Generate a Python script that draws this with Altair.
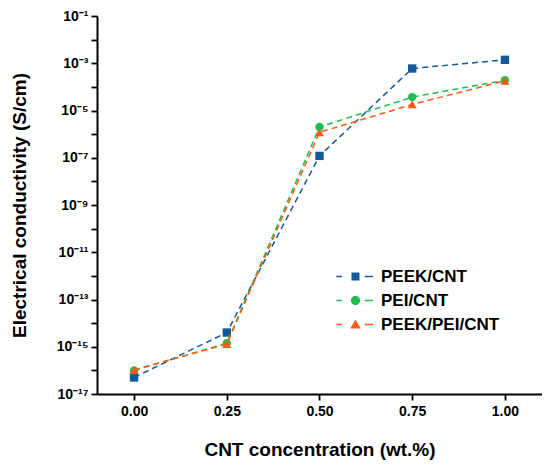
import altair as alt
import pandas as pd

# ---- data ----
concentration = [0.00, 0.25, 0.50, 0.75, 1.00]
series_names = ["PEEK/CNT", "PEI/CNT", "PEEK/PEI/CNT"]
peek_cnt = [5e-17, 4e-15, 1.2e-7, 6e-4, 1.4e-3]
pei_cnt = [1e-16, 1.4e-15, 2e-6, 3.7e-5, 1.9e-4]
peek_pei_cnt = [1.05e-16, 1.3e-15, 1.2e-6, 1.8e-5, 1.8e-4]
colors = ["#135a97", "#20bd4c", "#ff5a14"]
shapes = ["square", "circle", "triangle-up"]

x_ticks = [0.0, 0.25, 0.5, 0.75, 1.0]
y_tick_values = [10.0 ** -k for k in range(1, 18)]
y_tick_labels = ["10⁻¹", "", "10⁻³", "", "10⁻⁵", "", "10⁻⁷", "", "10⁻⁹", "",
                 "10⁻¹¹", "", "10⁻¹³", "", "10⁻¹⁵", "", "10⁻¹⁷"]

# legend symbols: dash - marker - dash (custom paths)
legend_paths = [
    "M-4.8,-0.2H-3.4V0.2H-4.8Z M-1,-1H1V1H-1Z M2.3,-0.2H4.4V0.2H2.3Z",
    "M-4.8,-0.2H-3.4V0.2H-4.8Z M1.15,0A1.15,1.15,0,1,1,-1.15,0A1.15,1.15,0,1,1,1.15,0Z M2.3,-0.2H4.4V0.2H2.3Z",
    "M-4.8,-0.2H-3.4V0.2H-4.8Z M0,-1.25L1.3,1L-1.3,1Z M2.3,-0.2H4.4V0.2H2.3Z",
]

rows = []
for name, vals in zip(series_names, [peek_cnt, pei_cnt, peek_pei_cnt]):
    for c, v in zip(concentration, vals):
        rows.append({"series": name, "conc": c, "sigma": v})
df = pd.DataFrame(rows)

label_expr = "[" + ",".join("'" + s + "'" for s in y_tick_labels) + "][round(-log(datum.value)/LN10)-1]"

x_enc = alt.X(
    "conc:Q",
    scale=alt.Scale(domain=[-0.1, 1.1], nice=False, zero=False),
    axis=alt.Axis(
        values=x_ticks, format=".2f", title="CNT concentration (wt.%)",
        titleY=55, titleBaseline="middle", labelPadding=4,
    ),
)
y_enc = alt.Y(
    "sigma:Q",
    scale=alt.Scale(type="log", domain=[1e-17, 1e-1], nice=False),
    axis=alt.Axis(
        values=y_tick_values, labelExpr=label_expr,
        title="Electrical conductivity (S/cm)",
        titleX=-78, titleY=189, titleBaseline="middle", titleAlign="center",
        labelPadding=3,
    ),
)

base = alt.Chart(df)
layers = []
for name, col, shp in zip(series_names, colors, shapes):
    sub = base.transform_filter(alt.datum.series == name)
    line = sub.mark_line(strokeDash=[6, 4], strokeWidth=1.5, color=col).encode(
        x=x_enc, y=y_enc,
    )
    pts = sub.mark_point(filled=True, shape=shp, size=70 if shp != "triangle-up" else 80,
                         opacity=1, color=col).encode(
        x=x_enc, y=y_enc,
    )
    layers += [line, pts]

# legend-only layer: draws no marks (all rows filtered), legend entries come from the explicit domain
legend_layer = base.transform_filter(alt.datum.conc < -1).mark_point(filled=True, opacity=1).encode(
    x=x_enc, y=y_enc,
    color=alt.Color(
        "series:N", scale=alt.Scale(domain=series_names, range=colors), title=None,
        legend=alt.Legend(orient="none", legendX=250, legendY=252, symbolOpacity=1),
    ),
    shape=alt.Shape(
        "series:N", scale=alt.Scale(domain=series_names, range=legend_paths), title=None,
    ),
)
layers.append(legend_layer)

chart = alt.layer(*layers).properties(
    width=445, height=378,
    autosize=alt.AutoSizeParams(type="none"),
    padding={"left": 89, "top": 8, "right": 0, "bottom": 70},
).configure_view(stroke=None).configure_axis(
    grid=False,
    domainColor="black", domainWidth=2,
    tickColor="black", tickWidth=1.8, tickSize=6,
    labelFont="Liberation Sans", labelFontWeight="bold", labelFontSize=14, labelColor="black",
    titleFont="Liberation Sans", titleFontWeight="bold", titleFontSize=19, titleColor="black",
).configure_legend(
    labelFont="Liberation Sans", labelFontWeight="bold", labelFontSize=17, labelColor="black",
    symbolSize=64, symbolStrokeWidth=0, labelOffset=17,
    rowPadding=6, padding=0,
)

chart.save("out.html", embed_options={"renderer": "svg", "actions": False})
